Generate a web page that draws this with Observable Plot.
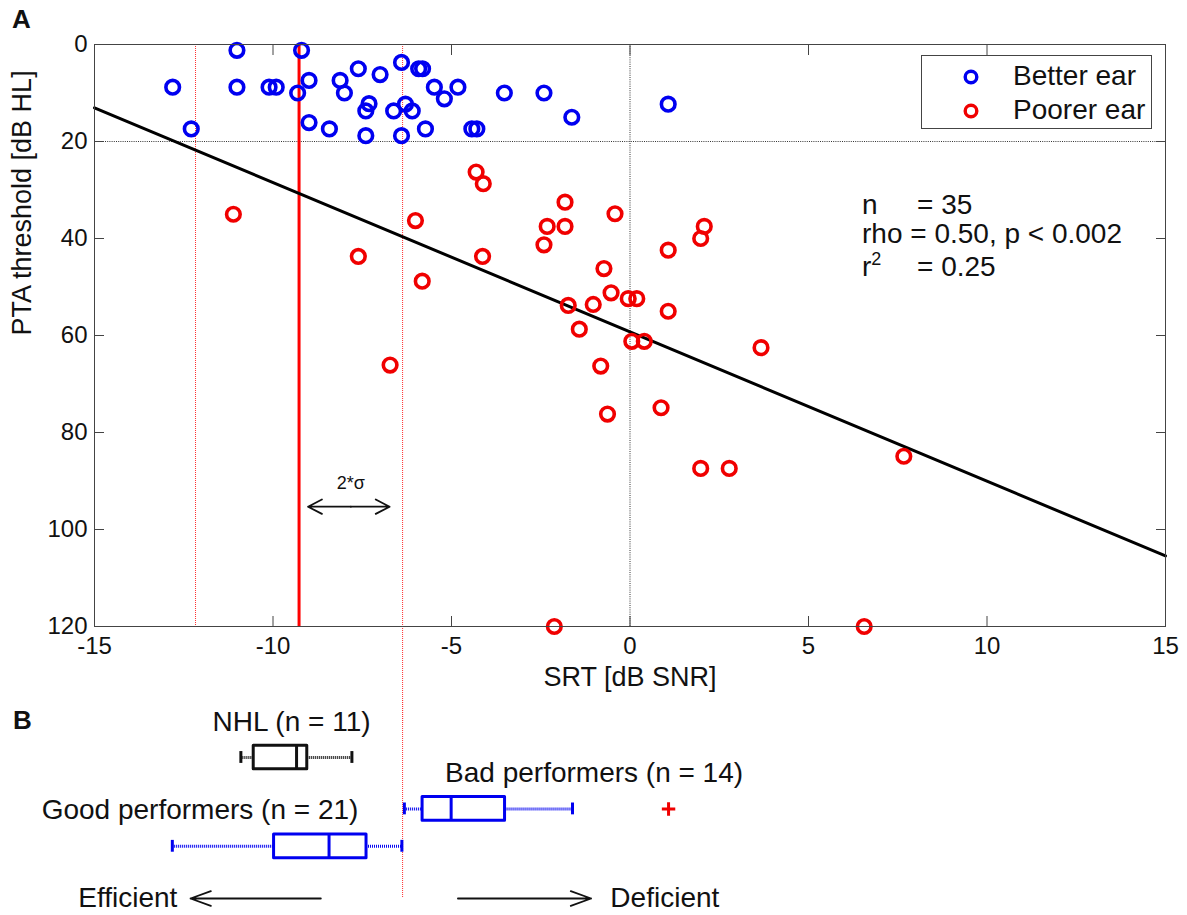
<!DOCTYPE html>
<html>
<head>
<meta charset="utf-8">
<script src="https://cdn.jsdelivr.net/npm/d3@7"></script>
<script src="https://cdn.jsdelivr.net/npm/@observablehq/plot@0.6"></script>
<style>
  html, body { margin: 0; padding: 0; background: white; }
  #wrap { position: relative; width: 1187px; height: 915px; font-family: "Liberation Sans", Arial, Helvetica, sans-serif; color: #111; }
  #wrap svg { display: block; }
  .ov { position: absolute; line-height: 1; white-space: pre; }
  .panel { font-weight: bold; font-size: 26px; }
  .stat { font-size: 28px; }
  .stat sup { font-size: 18px; position: relative; top: -0.15em; vertical-align: top; }
  #legend { position: absolute; left: 921px; top: 55px; width: 231px; height: 74px; border: 1px solid #444; background: white; box-sizing: border-box; }
  #legend .row { position: absolute; left: 0; font-size: 28px; line-height: 1; }
  #legend svg { position: absolute; }
</style>
</head>
<body>
<div id="wrap"></div>
<script>
// ---------- data ----------
const betterSRT = [-11.01,-9.20,-12.81,-11.01,-10.11,-9.91,-9.31,-8.99,-12.29,-8.99,-8.42,-8.12,-8.00,-7.61,-7.31,-7.40,-7.40,-7.00,-6.40,-6.62,-6.29,-6.10,-6.40,-5.92,-5.81,-5.73,-5.48,-5.20,-4.82,-4.43,-4.29,-3.52,-2.41,-1.63,1.07];
const betterPTA = [1.2,1.2,8.8,8.8,8.8,8.8,10.0,7.4,17.4,16.1,17.4,7.4,10.0,5.0,12.2,13.7,18.8,6.2,3.7,13.7,12.3,13.7,18.8,5.0,5.0,17.4,8.8,11.2,8.8,17.4,17.4,10.0,10.0,15.0,12.3];
const poorerSRT = [-11.11,-6.01,-7.61,-5.82,-6.72,-4.31,-4.11,-1.82,-2.32,-1.82,-2.41,-4.13,-1.73,-1.42,-0.42,2.08,1.98,1.07,-0.73,-1.03,-0.53,-0.05,0.19,1.07,0.05,0.40,3.67,-0.82,-0.63,0.87,1.98,2.78,7.67,-2.12,6.56];
const poorerPTA = [35.0,36.3,43.7,48.8,66.1,26.3,28.7,32.5,37.5,37.5,41.3,43.7,53.8,58.7,34.9,37.5,40.0,42.4,46.2,53.6,51.2,52.4,52.4,55.0,61.2,61.2,62.5,66.3,76.2,74.9,87.4,87.4,84.9,120,120];
const earNames = ["Better ear", "Poorer ear"];
const xTicks = [-15, -10, -5, 0, 5, 10, 15];
const yTicks = [0, 20, 40, 60, 80, 100, 120];
const normalLimit = 20;                    // dB HL dotted line
const nhlThresholds = [-12.17, -9.27, -6.37]; // mean - 2σ, mean, mean + 2σ
const fitIntercept = 59.25, fitSlope = 3.08;
const statsText = ["n", "= 35", "rho = 0.50, p < 0.002", "r", "2", "= 0.25"];

const groups   = ["NHL (n = 11)", "Bad performers (n = 14)", "Good performers (n = 21)"];
const groupRow = [0, 1.39, 2.4];
const boxMin = [-10.90, -6.32, -12.82];
const boxQ1  = [-10.54, -5.81, -9.97];
const boxMed = [-9.34, -5.01, -8.43];
const boxQ3  = [-9.04, -3.50, -7.38];
const boxMax = [-7.79, -1.61, -6.39];
const outlierGroup = [1];
const outlierSRT = [1.08];

// ---------- styles ----------
const FONT = '"Liberation Sans", Arial, Helvetica, sans-serif';
const BLUE = "#0000f0", RED = "#f00000";
const earColor = {"Better ear": BLUE, "Poorer ear": RED};
const groupColor = ["#111", BLUE, BLUE];

// ---------- tables ----------
const points = [
  ...betterSRT.map((s, i) => ({srt: s, pta: betterPTA[i], ear: earNames[0]})),
  ...poorerSRT.map((s, i) => ({srt: s, pta: poorerPTA[i], ear: earNames[1]}))
];
const xDomain = [xTicks[0], xTicks[xTicks.length - 1]];
const fit = xDomain.map(x => ({srt: x, pta: fitIntercept + fitSlope * x}));
const boxes = groups.map((g, i) => ({g, row: groupRow[i], min: boxMin[i], q1: boxQ1[i], med: boxMed[i], q3: boxQ3[i], max: boxMax[i], color: groupColor[i]}));
const outliers = outlierSRT.map((s, i) => ({srt: s, row: groupRow[outlierGroup[i]]}));
const sigmaMid = (nhlThresholds[1] + nhlThresholds[2]) / 2;

const W = 1187, ML = 94, MR = 22;

// ---------- panel A ----------
const plotA = Plot.plot({
  width: W, height: 700,
  marginTop: 44, marginBottom: 74, marginLeft: ML, marginRight: MR,
  style: {fontFamily: FONT, fontSize: "24px", color: "#111", background: "white", overflow: "visible"},
  x: {domain: xDomain},
  y: {domain: [yTicks[0], yTicks[yTicks.length - 1]], reverse: true},
  marks: [
    Plot.ruleX([0], {stroke: "#333", strokeWidth: 1, strokeDasharray: "1,1.2"}),
    Plot.ruleY([normalLimit], {stroke: "#333", strokeWidth: 1, strokeDasharray: "1,1.2"}),
    Plot.ruleX([nhlThresholds[0]], {stroke: "#ff3030", strokeWidth: 1, strokeDasharray: "1,1"}),
    Plot.ruleX([nhlThresholds[2]], {y1: 0, y2: 140, stroke: "#ff3030", strokeWidth: 1, strokeDasharray: "1,1"}),
    Plot.ruleX([nhlThresholds[1]], {stroke: "#ff0000", strokeWidth: 3}),
    Plot.line(fit, {x: "srt", y: "pta", stroke: "#000", strokeWidth: 3}),
    Plot.dot(points, {x: "srt", y: "pta", r: 6.8, stroke: d => earColor[d.ear], strokeWidth: 3.6, fill: "none"}),
    Plot.arrow([0], {x1: sigmaMid, x2: nhlThresholds[2], y: 95.3, insetEnd: 13, headLength: 13, headAngle: 55, strokeWidth: 1.8, stroke: "#111"}),
    Plot.arrow([0], {x1: sigmaMid, x2: nhlThresholds[1], y: 95.3, insetEnd: 9, headLength: 13, headAngle: 55, strokeWidth: 1.8, stroke: "#111"}),
    Plot.text(["2*σ"], {x: sigmaMid, y: 90.4, text: d => d, fontSize: 18, fill: "#111"}),
    Plot.frame({stroke: "#444", strokeWidth: 1}),
    Plot.axisX({ticks: xTicks, tickSize: 0, tickPadding: 10, label: null, tickFormat: d => String(d).replace("−", "-")}),
    Plot.axisX({ticks: xTicks, tickSize: -10, fill: "none", label: null, stroke: "#444"}),
    Plot.axisX({anchor: "top", ticks: xTicks, tickSize: -10, fill: "none", label: null, stroke: "#444"}),
    Plot.axisY({ticks: yTicks, tickSize: 0, tickPadding: 7, label: null}),
    Plot.axisY({ticks: yTicks, tickSize: -10, fill: "none", label: null, stroke: "#444"}),
    Plot.axisY({anchor: "right", ticks: yTicks, tickSize: -10, fill: "none", label: null, stroke: "#444"}),
    Plot.text(["SRT [dB SNR]"], {frameAnchor: "bottom", dy: 51, text: d => d, fontSize: 27, lineAnchor: "middle"}),
    Plot.text(["PTA threshold [dB HL]"], {frameAnchor: "left", dx: -72, rotate: -90, text: d => d, fontSize: 27, lineAnchor: "middle"})
  ]
});

// ---------- panel B ----------
const rowTop = -1.54, rowBottom = 4.27, arrowRow = 3.81, labelShift = -0.97;
const plotB = Plot.plot({
  width: W, height: 215,
  marginTop: 0, marginBottom: 0, marginLeft: ML, marginRight: MR,
  style: {fontFamily: FONT, fontSize: "28px", color: "#111", background: "white", overflow: "visible"},
  x: {domain: xDomain, axis: null},
  y: {domain: [rowTop, rowBottom], reverse: true, axis: null},
  marks: [
    Plot.ruleX([nhlThresholds[2]], {y1: rowTop, y2: arrowRow, stroke: "#ff3030", strokeWidth: 1, strokeDasharray: "1,1"}),
    Plot.ruleY(boxes, {x1: "min", x2: "q1", y: "row", stroke: "color", strokeWidth: 3, strokeDasharray: "1,1"}),
    Plot.ruleY(boxes, {x1: "q3", x2: "max", y: "row", stroke: "color", strokeWidth: 3, strokeDasharray: "1,1"}),
    Plot.ruleX(boxes, {x: "min", y1: d => d.row - 0.16, y2: d => d.row + 0.16, stroke: "color", strokeWidth: 3}),
    Plot.ruleX(boxes, {x: "max", y1: d => d.row - 0.16, y2: d => d.row + 0.16, stroke: "color", strokeWidth: 3}),
    Plot.rect(boxes, {x1: "q1", x2: "q3", y1: d => d.row - 0.32, y2: d => d.row + 0.32, fill: "white", stroke: "color", strokeWidth: 3, strokeLinejoin: "round"}),
    Plot.ruleX(boxes, {x: "med", y1: d => d.row - 0.32, y2: d => d.row + 0.32, stroke: "color", strokeWidth: 3}),
    Plot.dot(outliers, {x: "srt", y: "row", symbol: "plus", r: 4.4, stroke: RED, strokeWidth: 3}),
    Plot.text([boxes[0]], {x: -9.48, y: d => d.row + labelShift, text: "g", textAnchor: "middle", lineAnchor: "middle"}),
    Plot.text([boxes[1]], {x: -5.18, y: d => d.row + labelShift, text: "g", textAnchor: "start", lineAnchor: "middle"}),
    Plot.text([boxes[2]], {x: -16.48, y: d => d.row + labelShift, text: "g", textAnchor: "start", lineAnchor: "middle"}),
    Plot.arrow([0], {x1: -8.66, x2: -12.31, y: arrowRow, headLength: 18, headAngle: 40, strokeWidth: 1.8, stroke: "#111"}),
    Plot.arrow([0], {x1: -4.82, x2: -1.09, y: arrowRow, headLength: 18, headAngle: 40, strokeWidth: 1.8, stroke: "#111"}),
    Plot.text(["Efficient"], {x: -12.68, y: arrowRow, text: d => d, textAnchor: "end", lineAnchor: "middle"}),
    Plot.text(["Deficient"], {x: -0.55, y: arrowRow, text: d => d, textAnchor: "start", lineAnchor: "middle"})
  ]
});

// ---------- assemble ----------
const wrap = document.getElementById("wrap");
wrap.appendChild(plotA);
wrap.appendChild(plotB);

function ov(html, cls, left, top) {
  const d = document.createElement("div");
  d.className = "ov " + cls;
  d.style.left = left + "px";
  d.style.top = top + "px";
  d.innerHTML = html;
  wrap.appendChild(d);
  return d;
}
ov("A", "panel", 12, 6);
ov("B", "panel", 13, 707);
ov(statsText[0], "stat", 862, 190.5);
ov(statsText[1], "stat", 917, 190.5);
ov(statsText[2], "stat", 862, 219.5);
ov(statsText[3] + "<sup>" + statsText[4] + "</sup>", "stat", 862, 252.5);
ov(statsText[5], "stat", 917, 252.5);

const legend = document.createElement("div");
legend.id = "legend";
earNames.forEach((name, i) => {
  const cy = i === 0 ? 21 : 55;
  const s = d3.create("svg").attr("width", 24).attr("height", 24)
    .style("left", "37px").style("top", (cy - 12) + "px");
  s.append("circle").attr("cx", 12).attr("cy", 12).attr("r", 5.8)
    .attr("fill", "none").attr("stroke", earColor[name]).attr("stroke-width", 3.4);
  legend.appendChild(s.node());
  const t = document.createElement("div");
  t.className = "row";
  t.style.left = "91px";
  t.style.top = (i === 0 ? 5.5 : 39.5) + "px";
  t.textContent = name;
  legend.appendChild(t);
});
wrap.appendChild(legend);
</script>
</body>
</html>
